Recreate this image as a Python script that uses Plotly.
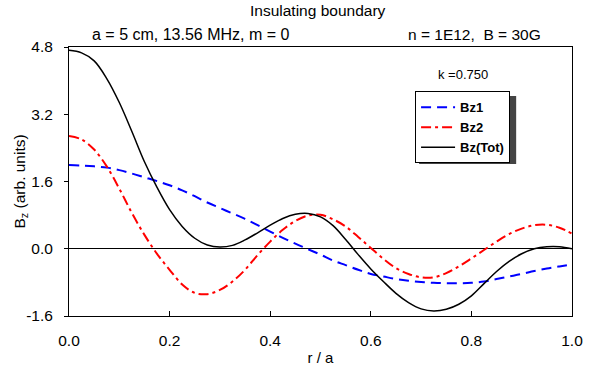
import plotly.graph_objects as go

r = [0, .025, .05, .075, .1, .125, .15, .175, .2, .225, .25, .275, .3, .325, .35, .375, .4, .425, .45, .475,
     .5, .525, .55, .575, .6, .625, .65, .675, .7, .725, .75, .775, .8, .825, .85, .875, .9, .925, .95, .975, 1.0]

bz1 = [1.99, 1.98, 1.96, 1.93, 1.87, 1.79, 1.70, 1.61, 1.51, 1.39, 1.25, 1.10, 0.97, 0.84, 0.71, 0.56, 0.41, 0.26,
       0.12, -0.01, -0.14, -0.28, -0.39, -0.50, -0.60, -0.66, -0.72, -0.76, -0.79, -0.81, -0.82, -0.82, -0.81,
       -0.78, -0.72, -0.66, -0.60, -0.53, -0.47, -0.42, -0.37]

bz2 = [2.68, 2.60, 2.36, 1.96, 1.43, 0.85, 0.33, -0.12, -0.50, -0.85, -1.05, -1.08, -0.98, -0.78, -0.50, -0.15,
       0.17, 0.45, 0.66, 0.79, 0.81, 0.70, 0.53, 0.28, 0.02, -0.24, -0.46, -0.60, -0.68, -0.68, -0.58, -0.42,
       -0.23, -0.03, 0.17, 0.35, 0.48, 0.56, 0.57, 0.50, 0.36]

bztot = [4.72, 4.66, 4.47, 4.05, 3.48, 2.79, 2.07, 1.46, 0.93, 0.53, 0.25, 0.09, 0.04, 0.08, 0.21, 0.38, 0.56,
         0.72, 0.82, 0.84, 0.76, 0.55, 0.22, -0.14, -0.48, -0.78, -1.06, -1.28, -1.43, -1.48, -1.44, -1.32,
         -1.12, -0.83, -0.54, -0.30, -0.12, 0.00, 0.05, 0.05, 0.00]

y_ticks = [-1.6, 0.0, 1.6, 3.2, 4.8]
y_tick_labels = ["-1.6", "0.0", "1.6", "3.2", "4.8"]
x_ticks = [0.0, 0.2, 0.4, 0.6, 0.8, 1.0]
x_tick_labels = ["0.0", "0.2", "0.4", "0.6", "0.8", "1.0"]

FONT = "Liberation Sans, Arial, sans-serif"

fig = go.Figure()
fig.add_trace(go.Scatter(x=r, y=bz1, name="Bz1", mode="lines",
                         line=dict(color="#0000ff", width=2, dash="10px,6px", shape="spline")))
fig.add_trace(go.Scatter(x=r, y=bz2, name="Bz2", mode="lines",
                         line=dict(color="#ff0000", width=2, dash="10px,4px,3px,4px", shape="spline")))
fig.add_trace(go.Scatter(x=r, y=bztot, name="Bz(Tot)", mode="lines",
                         line=dict(color="#000000", width=1.5, shape="spline")))

# legend drop shadow (paper coordinates, offset ~3 px right/down from the legend box)
fig.add_shape(type="rect", xref="paper", yref="paper", x0=0.696, x1=0.889, y0=0.565, y1=0.818,
              fillcolor="#444444", line=dict(width=0), layer="above")

fig.update_layout(
    width=595, height=376,
    margin=dict(l=69, r=23, t=47, b=60),
    paper_bgcolor="white", plot_bgcolor="white",
    font=dict(family=FONT, size=15.5, color="black"),
    showlegend=True,
    legend=dict(x=0.688, y=0.835, xanchor="left", yanchor="top", bgcolor="white", bordercolor="black",
                borderwidth=1, font=dict(family=FONT, size=13, color="black", weight="bold"),
                tracegroupgap=0, itemwidth=34),
    xaxis=dict(range=[0, 1], tickvals=x_ticks, ticktext=x_tick_labels, ticks="inside", ticklen=5,
               tickcolor="black", ticklabelstandoff=10, automargin=False,
               showline=True, linecolor="black", linewidth=1, mirror=True, showgrid=False, zeroline=False,
               title=dict(text="r / a", font=dict(size=15), standoff=4)),
    yaxis=dict(range=[-1.6, 4.8], tickvals=y_ticks, ticktext=y_tick_labels, ticks="outside", ticklen=4,
               tickcolor="black", ticklabelstandoff=8, automargin=False,
               showline=True, linecolor="black", linewidth=1, mirror=True, showgrid=False,
               zeroline=True, zerolinecolor="black", zerolinewidth=1),
    annotations=[
        dict(text="B<sub>z</sub> (arb. units)", x=-0.0974, y=0.5, xref="paper", yref="paper", xanchor="center",
             yanchor="middle", textangle=-90, showarrow=False, font=dict(size=15.5)),
        dict(text="Insulating boundary", x=0.495, y=1, xref="paper", yref="paper", xanchor="center",
             yanchor="middle", yshift=37, showarrow=False, font=dict(size=15.5)),
        dict(text="a = 5 cm, 13.56 MHz, m = 0", x=0.2416, y=1, xref="paper", yref="paper", xanchor="center",
             yanchor="middle", yshift=13, showarrow=False, font=dict(size=16)),
        dict(text="n = 1E12,&nbsp; B = 30G", x=0.942, y=1, xref="paper", yref="paper", xanchor="right",
             yanchor="middle", yshift=13, showarrow=False, font=dict(size=15.5)),
        dict(text="k =0.750", x=0.783, y=0.896, xref="paper", yref="paper", xanchor="center",
             yanchor="middle", showarrow=False, font=dict(size=13)),
    ],
)

fig.write_html("out.html")
